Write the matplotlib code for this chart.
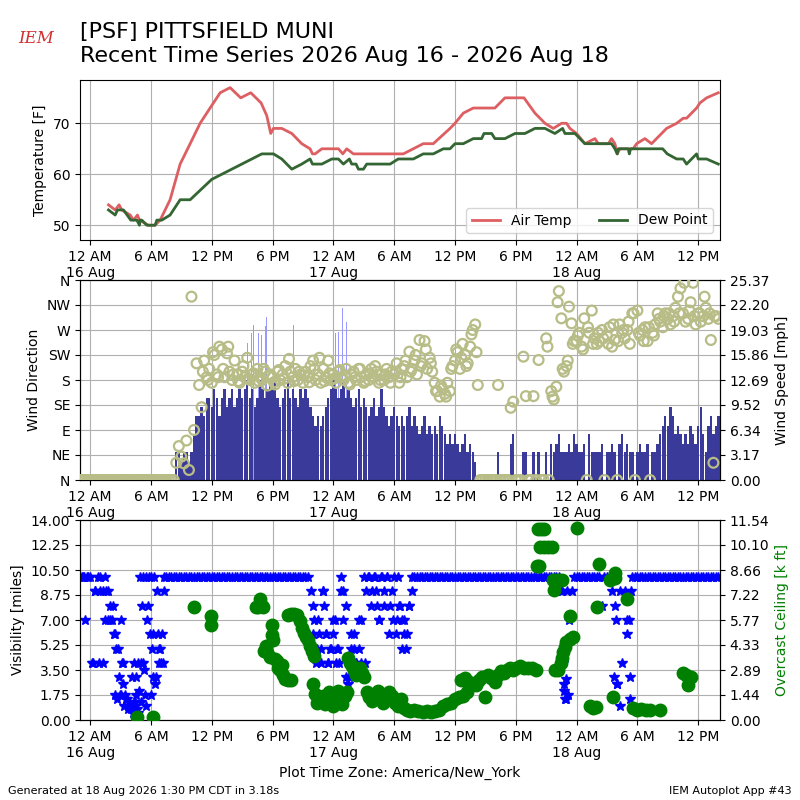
import numpy as np
import pandas as pd
import matplotlib
matplotlib.use("Agg")
import matplotlib.pyplot as plt
import matplotlib.dates as mdates
from matplotlib.ticker import FuncFormatter

BASE = pd.Timestamp("2026-08-16 00:00")

# ---------------- Temperature (hours after 16 Aug 00:00 local) ----------------
tmpf_hours = [1.81, 2.47, 2.86, 3.12, 3.95, 4.28, 4.67, 4.87, 5.76, 6.41, 6.91, 7.89, 8.88, 9.87,
              10.85, 12.0, 12.83, 13.81, 14.86, 15.85, 16.87, 17.43, 17.82, 18.09, 18.91, 19.90,
              20.88, 21.70, 21.94, 22.20, 22.86, 24.50, 24.93, 25.32, 25.98, 30.58, 30.90, 32.87,
              33.86, 35.51, 36.00, 36.82, 37.81, 39.94, 40.93, 42.81, 43.89, 44.88, 45.70, 46.52,
              47.01, 47.34, 48.00, 48.82, 49.81, 50.14, 51.13, 51.45, 51.78, 52.01, 52.28, 53.59,
              53.92, 54.74, 55.40, 55.89, 56.88, 57.87, 58.52, 58.85, 59.84, 60.17, 60.83, 61.98]
tmpf_vals = [54, 53, 54, 53, 52, 51, 52, 51, 50, 50, 51, 55, 62, 66,
             70, 73.5, 76, 77, 75, 76, 74, 71.5, 68, 69, 69, 68,
             66, 65, 64, 64, 65, 65, 64, 65, 64, 64, 64, 66,
             66, 69, 70, 72, 73, 73, 75, 75, 72, 70, 69, 70,
             70, 69, 68, 66, 67, 66, 66, 67, 66, 64, 65, 65,
             66, 67, 66, 67, 69, 70, 71, 71, 73, 74, 75, 76]

dwpf_hours = [1.81, 2.47, 2.70, 3.29, 4.01, 4.61, 4.87, 4.93, 5.10, 5.59, 6.41, 6.58, 7.07, 7.89,
              8.88, 9.87, 12.0, 16.94, 18.09, 18.91, 19.90, 20.88, 21.70, 21.94, 22.86, 23.84,
              24.50, 24.99, 25.58, 25.81, 26.24, 26.47, 26.97, 27.29, 29.60, 30.40, 31.89, 32.87,
              33.86, 34.85, 35.51, 36.00, 36.82, 37.81, 38.63, 38.86, 39.62, 39.94, 40.93, 41.92,
              42.90, 43.89, 44.88, 45.86, 46.62, 46.85, 47.84, 48.82, 51.45, 51.78, 52.01, 52.11,
              53.10, 53.20, 53.33, 56.49, 56.95, 57.87, 58.52, 58.85, 59.84, 60.00, 60.83, 61.98]
dwpf_vals = [53, 52, 53, 53, 51, 51, 50, 51, 51, 50, 50, 51, 51, 52,
             55, 55, 59, 64, 64, 63, 61, 62, 63, 62, 62, 63,
             63, 62, 63, 62, 62, 61, 61, 62, 62, 63, 63, 64,
             64, 65, 65, 66, 66, 67, 67, 68, 68, 67, 67, 68,
             68, 69, 69, 68, 69, 68, 68, 66, 66, 65, 64, 65,
             65, 64, 65, 65, 64, 63, 63, 62, 64, 63, 63, 62]

# ---------------- Wind: 15-minute observations starting 15 Aug 23:00 ----------------
wind_start = "2026-08-15 23:00"
wind_speed_mph = [
    0, 0, 0, 0,  0, 0, 0, 0,  0, 0, 0, 0,  0, 0, 0, 0,  0, 0, 0, 0,
    0, 0, 0, 0,  0, 0, 0, 0,  0, 0, 0, 0,  0, 0, 0, 0,
    0, 0, 3.5, 3.5,
    2.3, 3.5, 3.5, 2.3,
    3.5, 5.8, 8.1, 8.1,
    9.2, 8.1, 10.4, 10.4,
    9.2, 11.5, 10.4, 8.1,
    10.4, 11.5, 9.2, 10.4,
    11.5, 9.2, 10.4, 11.5,
    10.4, 11.5, 12.7, 10.4,
    11.5, 9.2, 10.4, 12.7,
    11.5, 10.4, 11.5, 12.7,
    11.5, 12.7, 10.4, 9.2,
    10.4, 11.5, 12.7, 10.4,
    11.5, 10.4, 9.2, 11.5,
    10.4, 11.5, 10.4, 9.2,
    8.1, 6.9, 8.1, 6.9,
    8.1, 9.2, 10.4, 11.5,
    12.7, 11.5, 10.4, 11.5,
    12.7, 10.4, 11.5, 10.4,
    9.2, 10.4, 11.5, 9.2,
    10.4, 9.2, 8.1, 9.2,
    10.4, 8.1, 9.2, 11.5,
    9.2, 8.1, 6.9, 8.1,
    9.2, 8.1, 6.9, 8.1,
    6.9, 8.1, 9.2, 6.9,
    8.1, 6.9, 5.8, 6.9,
    8.1, 5.8, 6.9, 5.8,
    6.9, 5.8, 8.1, 6.9,
    5.8, 4.6, 5.8, 4.6,
    5.8, 4.6, 3.5, 4.6,
    5.8, 3.5, 4.6, 3.5,
    2.3, 0, 0, 0,
    0, 0, 0, 0,
    0, 3.5, 0, 0,
    0, 0, 4.6, 5.8,
    0, 0, 0, 3.5,
    3.5, 0, 0, 3.5,
    0, 3.5, 0, 0,
    3.5, 0, 4.6, 3.5,
    4.6, 5.8, 3.5, 3.5,
    3.5, 4.6, 3.5, 5.8,
    4.6, 3.5, 3.5, 4.6,
    0, 5.8, 3.5, 3.5,
    3.5, 3.5, 4.6, 0,
    3.5, 3.5, 4.6, 3.5,
    0, 4.6, 5.8, 3.5,
    4.6, 3.5, 3.5, 0,
    3.5, 4.6, 3.5, 3.5,
    4.6, 0, 3.5, 3.5,
    4.6, 5.8, 6.9, 8.1,
    6.9, 9.2, 8.1, 5.8,
    6.9, 5.8, 4.6, 5.8,
    4.6, 6.9, 5.8, 4.6,
    6.9, 9.2, 5.8, 3.5,
    6.9, 8.1, 5.8, 6.9,
    8.1,
]
wind_dir_deg = [
    0, 0, 0, 0,  0, 0, 0, 0,  0, 0, 0, 0,  0, 0, 0, 0,  0, 0, 0, 0,
    0, 0, 0, 0,  0, 0, 0, 0,  0, 0, 0, 0,  0, 0, 0, 0,
    0, 0, 31, 61,
    42, 30, 71, 18,
    330, 90, 210, 171,
    131, 215, 185, 200,
    175, 225, 190, 240,
    235, 185, 228, 195,
    180, 215, 190, 175,
    195, 185, 220, 180,
    190, 175, 200, 185,
    180, 195, 170, 190,
    185, 172, 195, 180,
    190, 205, 175, 195,
    185, 200, 180, 190,
    175, 195, 185, 205,
    215, 180, 190, 175,
    200, 185, 215, 180,
    190, 175, 195, 185,
    180, 200, 175, 190,
    195, 180, 200, 185,
    175, 190, 180, 200,
    185, 195, 175, 190,
    180, 200, 185, 195,
    190, 210, 175, 200,
    205, 185, 231, 200,
    215, 190, 252, 210,
    250, 200, 220, 195,
    175, 160, 150, 165,
    155, 175, 160, 205,
    215, 230, 200, 245,
    225, 210, 240, 270,
    280, 171, 0, 0,
    0, 0, 0, 0,
    0, 171, 0, 0,
    0, 0, 130, 141,
    0, 0, 0, 222,
    151, 0, 0, 151,
    0, 216, 0, 0,
    255, 0, 160, 145,
    168, 340, 291, 195,
    205, 312, 282, 250,
    250, 265, 240, 291,
    0, 265, 305, 255,
    245, 250, 270, 0,
    260, 275, 240, 252,
    0, 280, 265, 255,
    270, 245, 300, 0,
    305, 260, 270, 275,
    250, 0, 265, 280,
    300, 285, 275, 300,
    290, 280, 295, 310,
    330, 345, 300, 285,
    290, 320, 355, 280,
    300, 285, 295, 310,
    290, 252, 31, 295,
    290,
]
# extra direction reports between the 15-minute ones (every 30 min, offset 7.5 min)
dir_extra_a_start = "2026-08-16 11:07:30"
dir_extra_a_deg = [195, 180, 230, 185, 200, 240, 190, 178, 205, 183, 192, 178, 200, 188,
                   176, 198, 182, 218, 178, 195, 188, 176, 200, 220, 178, 192, 183, 198,
                   188, 172, 185, 200, 178, 192, 205, 180, 190, 175, 195, 185, 215, 195,
                   225, 205, 235, 210, 160, 170, 150, 200, 235, 220, 205, 262, 230]
dir_extra_b_start = "2026-08-17 21:07:30"
dir_extra_b_deg = [240, 150, 320, 200, 215, 245, 260, 235, 275, 245, 265, 255, 245, 280,
                   250, 270, 285, 300, 265, 250, 275, 260, 290, 295, 300, 285, 300, 355,
                   305, 295, 300, 330, 300, 295]
gust_hours = [12.8, 13.3, 13.8, 14.0, 15.5, 15.9, 16.1, 16.6, 16.9, 17.3, 17.4, 20.05,
              23.85, 24.2, 24.5, 24.9, 25.3, 28.6]
gust_mph = [21.8, 15.0, 18.6, 18.6, 17.4, 18.6, 19.7, 18.6, 18.4, 19.5, 20.7, 19.7,
            20.7, 18.6, 18.8, 21.8, 20.0, 20.7]
wind_speed_max = 25.374

# ---------------- Visibility: 15-minute observations starting 15 Aug 23:00 ----------------
vis_miles = [
    10, 10, 7, 10,
    10, 4, 9, 10,
    9, 4, 10, 9,
    7, 8, 6, 5,
    1.75, 4, 1.5, 1.0,
    0.75, 1.0, 3.0, 0.5,
    4, 10, 1.0, 8,
    10, 6, 3, 5,
    4, 10, 10, 10,
    10, 10, 10, 10, 10, 10, 10, 10, 10, 10, 10, 10, 10,
    10, 10, 10, 10, 10, 10, 10, 10, 10, 10, 10, 10, 10,
    10, 10, 10, 10, 10, 10, 10, 10, 10, 10, 10, 10, 10,
    10, 10, 10, 10, 10, 10, 10, 10, 10, 10, 10, 10, 10,
    10, 10, 10, 9,
    6, 4, 7, 5,
    9, 6, 4, 5,
    7, 4, 5, 10,
    9, 3, 4, 6,
    5, 4, 7, 4,
    10, 9, 10, 8,
    10, 9, 7, 10,
    8, 10, 6, 9,
    10, 7, 8, 5,
    7, 6, 8, 10,
    10, 10, 10, 10, 10, 10, 10, 10, 10, 10, 10, 10, 10, 10,
    10, 10, 10, 10, 10, 10, 10, 10, 10, 10, 10, 10, 10, 10,
    10, 10, 10, 10, 10, 10, 10, 10, 10, 10, 10, 10, 10, 10,
    10, 10, 10, 10, 10, 10, 10, 10, 10, 10, 10, 10, 10, 10,
    10, 10, 9, 2.5,
    1.5, 7, 9, 10,
    10, 10, 10, 10,
    10, 10, 10, 10,
    10, 10, 8, 10,
    10, 10, 9, 8,
    2.5, 1.0, 4, 9,
    7, 1.5, 10, 10,
    10, 10, 10, 10, 10, 10, 10, 10, 10, 10, 10, 10, 10, 10, 10, 10,
    10, 10, 10, 10, 10, 10, 10, 10, 10, 10, 10, 10, 10, 10, 10, 10,
    10,
]
# additional (special) visibility reports
vis_extra_hours = [-0.8, -0.6, -0.3, 0.2, 0.5, 0.9, 1.0, 1.3, 1.5, 1.6, 1.8, 2.0, 2.2, 2.4, 2.5,
                   2.6, 2.7, 2.8, 2.9, 3.0, 3.1, 3.2, 3.3, 3.4, 3.6, 3.7, 3.8, 3.9, 4.1, 4.2,
                   4.3, 4.4, 4.5, 4.6, 4.7, 4.8, 4.9, 5.0, 5.1, 5.2, 5.3, 5.4, 5.5, 5.6, 5.8,
                   5.9, 6.0, 6.1, 6.2, 6.3, 6.4, 6.6, 6.7, 6.8, 6.9, 7.1, 7.2, 7.3,
                   22.0, 22.1, 22.4, 22.6, 22.8, 23.0, 23.1, 23.3, 23.5, 23.7, 24.0, 24.2, 24.4,
                   24.6, 24.8, 25.0, 25.2, 25.4, 25.5, 25.7, 26.0, 26.2, 26.5, 26.7, 27.1, 27.4,
                   27.8, 28.1, 28.3, 28.5, 28.7, 29.0, 29.3, 29.6, 29.9, 30.2, 30.4, 30.6, 30.8,
                   31.0, 31.2, 31.5, 31.8,
                   46.6, 46.7, 46.8, 46.9, 47.0, 47.1, 47.2, 51.7, 51.9, 52.0, 52.3, 53.0, 53.2,
                   53.3, 53.4]
vis_extra_miles = [10, 10, 10, 4, 9, 4, 10, 9, 7, 9, 7, 8, 7, 6, 1.75,
                   5, 1.5, 3, 1.75, 7, 4, 2.5, 1.0, 1.75, 1.5, 0.75, 1.25, 1.0, 3, 0.5,
                   4, 1.25, 1.75, 0.75, 4, 2, 10, 1.25, 8, 4, 3.5, 1.75, 10, 7, 10,
                   6, 1.75, 5, 3, 10, 2.5, 9, 6, 4, 5, 6, 4, 9,
                   8, 7, 5, 6, 4, 9, 8, 6, 4, 5, 6, 7, 5,
                   4, 9, 7, 8, 2.5, 3, 5, 6, 4, 5, 7, 4, 10,
                   9, 10, 8, 7, 10, 9, 10, 8, 7, 6, 10, 8, 7,
                   6, 5, 8, 9,
                   9, 4, 2, 1.5, 2.9, 9, 1.75, 3, 7, 2.5, 9, 6, 7,
                   3, 9]

# ---------------- Overcast ceiling reports ----------------
ceil_hours = [4.6, 6.2, 10.2, 11.9, 11.9,
              16.4, 16.6, 16.8, 17.0, 17.1, 17.2, 17.4, 17.5, 17.7, 17.9, 17.9, 18.0, 18.2, 18.4,
              18.5, 18.7, 18.9, 19.0, 19.2, 19.5, 19.8, 19.5, 19.8, 20.1, 20.4, 20.7, 20.9, 21.1,
              21.3, 21.5, 21.7, 21.9, 22.1, 22.0, 22.2, 22.4, 22.6, 22.8, 23.0, 23.2, 23.4, 23.6,
              23.8, 24.0, 24.2, 24.5, 24.7, 24.9, 25.1, 25.3, 25.4, 25.6, 25.8, 26.0, 26.2, 26.4,
              26.6, 26.8, 27.0, 27.3, 27.5, 27.8, 28.1, 28.4, 28.6, 28.9, 29.2, 29.5, 29.8, 30.1,
              30.4, 30.7, 31.0, 31.3, 31.6, 32.0, 32.4, 32.8, 33.2, 33.6, 34.0, 34.4, 34.8, 35.2,
              35.6, 36.0, 36.4, 36.8, 37.2, 36.6, 37.0, 37.4, 37.8, 38.1, 38.4, 38.7, 39.0, 39.3,
              39.6, 39.9, 40.2, 40.5, 40.8, 41.1, 41.4, 41.7, 42.0, 42.4, 42.8, 43.2, 43.6, 44.0,
              44.1, 44.3, 44.2, 44.5, 44.8, 44.4, 44.8, 45.2, 45.6, 45.7, 45.8, 46.0, 46.3, 46.6,
              45.9, 46.2, 46.5, 46.6, 46.7, 46.9, 47.0, 47.3, 47.6, 47.35, 48.0, 49.3, 49.6, 49.9,
              50.0, 50.2, 51.3, 51.6, 51.8, 51.8, 53.0, 53.6, 54.0, 54.4, 54.8, 55.2, 56.2, 58.5,
              58.8, 59.0, 59.3]
ceil_kft = [0.2, 0.2, 6.5, 6.0, 5.5,
            6.5, 6.5, 7.0, 6.6, 6.5, 4.0, 4.3, 3.9, 3.65, 5.5, 4.9, 4.6, 3.5, 3.4,
            3.0, 2.9, 3.2, 2.6, 2.35, 2.3, 2.3, 6.05, 6.1, 6.1, 6.05, 5.7, 5.3, 5.0,
            4.8, 4.6, 4.3, 4.0, 3.7, 2.1, 1.5, 1.0, 1.3, 1.1, 1.4, 0.9, 1.2, 1.6,
            1.0, 0.8, 1.3, 1.7, 1.2, 0.9, 1.4, 1.6, 3.6, 3.3, 3.1, 2.9, 2.6, 2.8,
            3.0, 2.7, 2.5, 1.6, 1.3, 1.1, 1.5, 1.7, 1.3, 1.0, 1.2, 1.6, 1.4, 1.0,
            0.8, 1.2, 0.7, 0.6, 0.5, 0.55, 0.5, 0.45, 0.5, 0.45, 0.5, 0.6, 0.8, 0.95,
            1.0, 1.2, 1.3, 1.4, 1.6, 2.3, 2.4, 2.2, 2.1, 2.0, 2.3, 2.5, 1.35, 2.6,
            2.4, 2.2, 2.6, 2.8, 2.7, 2.9, 3.0, 2.9, 3.0, 3.1, 3.0, 3.0, 3.0, 2.9,
            8.9, 8.9, 11.0, 11.0, 11.0, 10.0, 10.0, 10.0, 10.0, 8.1, 7.5, 8.1, 8.1, 8.1,
            2.9, 2.9, 3.3, 3.6, 3.9, 4.2, 4.5, 4.7, 4.8, 6.0, 11.1, 0.8, 0.7, 0.75,
            6.5, 9.0, 8.1, 1.3, 8.5, 8.2, 7.0, 0.7, 0.6, 0.65, 0.6, 0.6, 0.6, 2.7,
            2.6, 2.0, 2.5]
ceil_max = 11.5443

dir_labels = ["N", "NE", "E", "SE", "S", "SW", "W", "NW", "N"]


def to_time(hours):
    return BASE + pd.to_timedelta(np.asarray(hours, dtype=float), unit="h")


wind_times = pd.date_range(wind_start, periods=len(wind_speed_mph), freq="15min")
vis_times = pd.date_range(wind_start, periods=len(vis_miles), freq="15min")
dir_a_times = pd.date_range(dir_extra_a_start, periods=len(dir_extra_a_deg), freq="30min")
dir_b_times = pd.date_range(dir_extra_b_start, periods=len(dir_extra_b_deg), freq="30min")

fig = plt.figure(figsize=(8, 8), dpi=100)
ax1 = fig.add_axes([0.1, 0.7, 0.8, 0.2])
ax2 = fig.add_axes([0.1, 0.4, 0.8, 0.25])
ax3 = fig.add_axes([0.1, 0.1, 0.8, 0.25])

xmin, xmax = to_time(-1.0), to_time(62.15)


def tfmt(x, pos=None):
    dt = mdates.num2date(x)
    if dt.hour == 0:
        return "12 AM\n%d %s" % (dt.day, dt.strftime("%b"))
    h = dt.hour % 12
    if h == 0:
        h = 12
    return "%d %s" % (h, "AM" if dt.hour < 12 else "PM")


def style_x(ax):
    ax.set_xlim(xmin, xmax)
    ax.xaxis.set_major_locator(mdates.HourLocator(byhour=[0, 6, 12, 18]))
    ax.xaxis.set_major_formatter(FuncFormatter(tfmt))
    ax.grid(True)


# ---- Temperature panel
ax1.plot(to_time(tmpf_hours), tmpf_vals, color="#dd5f62", lw=2, label="Air Temp")
ax1.plot(to_time(dwpf_hours), dwpf_vals, color="#336633", lw=2, label="Dew Point")
ax1.set_ylim(47.1, 78.5)
ax1.set_yticks([50, 60, 70])
ax1.set_ylabel("Temperature [F]")
style_x(ax1)
ax1.legend(loc="lower right", ncol=2)

# ---- Wind panel (speed bars on base axis, direction on top twin)
ax2.bar(to_time(gust_hours), gust_mph, width=4 / 1440.0, color="#9999ff", zorder=2)
ax2.bar(wind_times, wind_speed_mph, width=14 / 1440.0, color="#3a3a9a", zorder=3)
ax2.set_ylim(0, wind_speed_max)
style_x(ax2)
ax2.set_axisbelow(True)

ax2d = ax2.twinx()
for tt, dd in ((wind_times, wind_dir_deg), (dir_a_times, dir_extra_a_deg),
               (dir_b_times, dir_extra_b_deg)):
    ax2d.scatter(tt, dd, s=50, facecolor="none", edgecolor="#b8bc86",
                 linewidths=1.6, zorder=4)
ax2d.set_ylim(0, 360)
ax2d.set_yticks(np.arange(0, 361, 45))
ax2d.set_yticklabels(dir_labels)
ax2d.yaxis.tick_left()
ax2d.yaxis.set_label_position("left")
ax2d.set_ylabel("Wind Direction")
ax2d.set_xlim(xmin, xmax)

ax2.yaxis.tick_right()
ax2.yaxis.set_label_position("right")
ax2.set_yticks(np.linspace(0, wind_speed_max, 9))
ax2.yaxis.set_major_formatter(FuncFormatter(lambda v, p: "%.2f" % v))
ax2.set_ylabel("Wind Speed [mph]")

# ---- Visibility / ceiling panel
ax3.plot(vis_times, vis_miles, "b*", ms=7, zorder=3)
ax3.plot(to_time(vis_extra_hours), vis_extra_miles, "b*", ms=7, zorder=3)
ax3.set_ylim(0, 14)
ax3.set_yticks(np.linspace(0, 14, 9))
ax3.yaxis.set_major_formatter(FuncFormatter(lambda v, p: "%.2f" % v))
ax3.set_ylabel("Visibility [miles]")
style_x(ax3)
ax3.set_xlabel("Plot Time Zone: America/New_York")

ax3c = ax3.twinx()
ax3c.plot(to_time(ceil_hours), ceil_kft, "o", color="green", ms=9, zorder=4)
ax3c.set_ylim(0, ceil_max)
ax3c.set_yticks(np.linspace(0, ceil_max, 9))
ax3c.yaxis.set_major_formatter(FuncFormatter(lambda v, p: "%.2f" % v))
ax3c.set_ylabel("Overcast Ceiling [k ft]", color="green")
ax3c.set_xlim(xmin, xmax)

# ---- Titles and footer
fig.text(0.1, 0.972, "[PSF] PITTSFIELD MUNI\nRecent Time Series 2026 Aug 16 - 2026 Aug 18",
         fontsize=16, va="top", ha="left", linespacing=1.2)
fig.text(0.045, 0.952, "IEM", color="#d03030", fontsize=12, family="DejaVu Serif",
         style="italic", ha="center", va="center")
fig.text(0.01, 0.008, "Generated at 18 Aug 2026 1:30 PM CDT in 3.18s", fontsize=8)
fig.text(0.99, 0.008, "IEM Autoplot App #43", fontsize=8, ha="right")

fig.savefig("out.png", dpi=100)
